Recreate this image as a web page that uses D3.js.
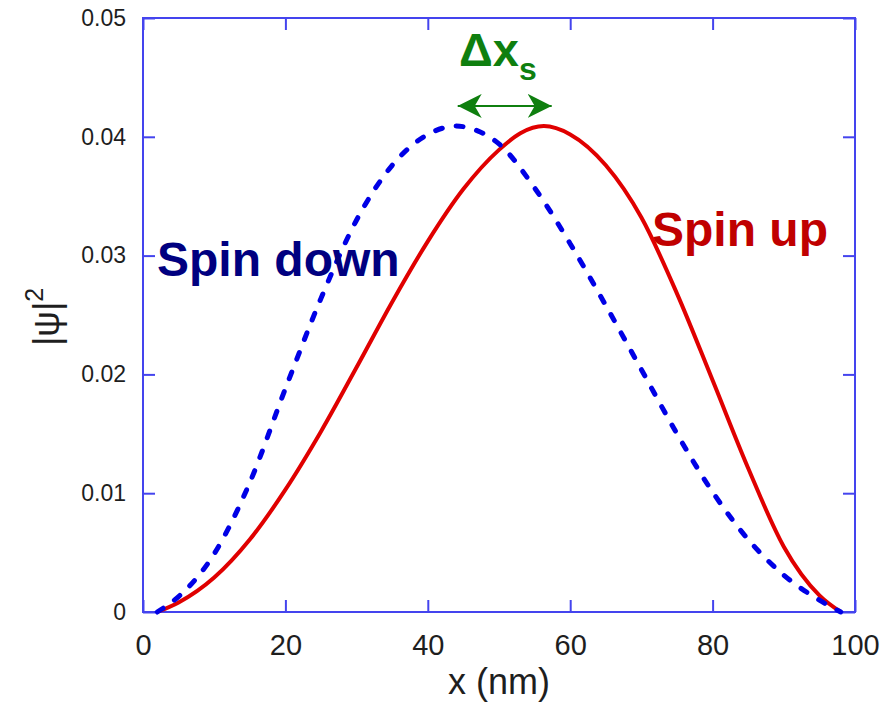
<!DOCTYPE html>
<html>
<head>
<meta charset="utf-8">
<script src="https://cdn.jsdelivr.net/npm/d3@7"></script>
<style>
  body { margin: 0; background: #fff; }
  svg { display: block; }
</style>
</head>
<body>
<script>

/* Data */

var xUp   = [2, 5, 10, 15, 20, 25, 30, 35, 40, 45, 50, 53, 56.3, 60, 65, 70, 75, 80, 85, 90, 95, 98];
var psiUp = [0, 0.0008, 0.0029, 0.0061, 0.0103, 0.0152, 0.0206, 0.0261, 0.0312, 0.0356, 0.0389, 0.0403, 0.0409, 0.0402, 0.0376, 0.0332, 0.0268, 0.0195, 0.0121, 0.0055, 0.0014, 0];

var xDown   = [2, 5, 10, 15, 20, 25, 30, 35, 40, 44, 47, 50, 55, 60, 65, 70, 75, 80, 85, 90, 95, 98];
var psiDown = [0, 0.0013, 0.0049, 0.0109, 0.0188, 0.0264, 0.0330, 0.0376, 0.0402, 0.0409, 0.0405, 0.0394, 0.0357, 0.0310, 0.0258, 0.0204, 0.0150, 0.0101, 0.0061, 0.0031, 0.0010, 0];

var xTicks = [0, 20, 40, 60, 80, 100];
var yTicks = [0, 0.01, 0.02, 0.03, 0.04, 0.05];

var shiftArrow = [44.2, 57.4];   // nm, between the two peaks
var shiftArrowY = 0.0426;


/* Chart */

var width = 885, height = 705;
var margin = {top: 18, right: 30, bottom: 93, left: 143};

var frameColor = "#4444ee";
var font = "Liberation Sans, Arial, sans-serif";

var svg = d3.select("body")
    .append("svg")
    .attr("width", width)
    .attr("height", height);

var x = d3.scaleLinear()
    .domain([0, 100])
    .range([margin.left, width - margin.right]);

var y = d3.scaleLinear()
    .domain([0, 0.05])
    .range([height - margin.bottom, margin.top]);

var tickLen = 12;

/* axes, ticks point inward on all four sides */
var axisB = d3.axisBottom(x).tickValues(xTicks).tickSizeInner(-tickLen).tickSizeOuter(0).tickPadding(22).tickFormat(d3.format("d"));
var axisT = d3.axisTop(x).tickValues(xTicks).tickSizeInner(-tickLen).tickSizeOuter(0).tickFormat("");
var axisL = d3.axisLeft(y).tickValues(yTicks).tickSizeInner(-tickLen).tickSizeOuter(0).tickPadding(17).tickFormat(function(d){ return d === 0 ? "0" : d3.format(".2f")(d); });
var axisR = d3.axisRight(y).tickValues(yTicks).tickSizeInner(-tickLen).tickSizeOuter(0).tickFormat("");

function styleAxis(g) {
    g.select(".domain").remove();
    g.selectAll(".tick line").attr("stroke", frameColor).attr("stroke-width", 2);
    g.selectAll(".tick text")
        .attr("fill", "#1e1e1e")
        .attr("font-family", font);
}

svg.append("g")
    .attr("transform", "translate(0," + y(0) + ")")
    .call(axisB)
    .call(styleAxis)
    .selectAll(".tick text").attr("font-size", 29).attr("dy", "0.71em");

svg.append("g")
    .attr("transform", "translate(0," + y(0.05) + ")")
    .call(axisT)
    .call(styleAxis);

svg.append("g")
    .attr("transform", "translate(" + x(0) + ",0)")
    .call(axisL)
    .call(styleAxis)
    .selectAll(".tick text").attr("font-size", 23);

svg.append("g")
    .attr("transform", "translate(" + x(100) + ",0)")
    .call(axisR)
    .call(styleAxis);

/* frame */
svg.append("rect")
    .attr("x", x(0))
    .attr("y", y(0.05))
    .attr("width", x(100) - x(0))
    .attr("height", y(0) - y(0.05))
    .attr("fill", "none")
    .attr("stroke", frameColor)
    .attr("stroke-width", 2);

/* curves */
var line = d3.line()
    .x(function(d) { return x(d[0]); })
    .y(function(d) { return y(d[1]); })
    .curve(d3.curveMonotoneX);

svg.append("path")
    .datum(d3.zip(xUp, psiUp))
    .attr("d", line)
    .attr("fill", "none")
    .attr("stroke", "#e00000")
    .attr("stroke-width", 4);

svg.append("path")
    .datum(d3.zip(xDown, psiDown))
    .attr("d", line)
    .attr("fill", "none")
    .attr("stroke", "#0000e6")
    .attr("stroke-width", 5)
    .attr("stroke-linecap", "round")
    .attr("stroke-dasharray", "7,14");

/* labels */
svg.append("text")
    .attr("x", 157)
    .attr("y", 276)
    .attr("font-family", font)
    .attr("font-weight", "bold")
    .attr("font-size", 48)
    .attr("fill", "#000080")
    .text("Spin down");

svg.append("text")
    .attr("x", 652)
    .attr("y", 246)
    .attr("font-family", font)
    .attr("font-weight", "bold")
    .attr("font-size", 48)
    .attr("fill", "#c00000")
    .text("Spin up");

/* shift annotation */
var green = "#0f7f0f";

svg.append("defs").selectAll("marker")
    .data(["head"])
    .enter().append("marker")
    .attr("id", "head")
    .attr("viewBox", "0 0 24 24")
    .attr("refX", 24)
    .attr("refY", 12)
    .attr("markerWidth", 24)
    .attr("markerHeight", 24)
    .attr("markerUnits", "userSpaceOnUse")
    .attr("orient", "auto-start-reverse")
    .append("path")
    .attr("d", "M0,0 L24,12 L0,24 L7,12 Z")
    .attr("fill", green);

svg.append("line")
    .attr("x1", x(shiftArrow[0]))
    .attr("x2", x(shiftArrow[1]))
    .attr("y1", y(shiftArrowY))
    .attr("y2", y(shiftArrowY))
    .attr("stroke", green)
    .attr("stroke-width", 2)
    .attr("marker-start", "url(#head)")
    .attr("marker-end", "url(#head)");

var dx = svg.append("text")
    .attr("x", 459)
    .attr("y", 66)
    .attr("font-family", font)
    .attr("font-weight", "bold")
    .attr("font-size", 47)
    .attr("fill", green);
dx.append("tspan").text("\u0394x");
dx.append("tspan").attr("font-size", 32).attr("dy", 14).text("s");

/* axis titles */
svg.append("text")
    .attr("x", (x(0) + x(100)) / 2)
    .attr("y", 694)
    .attr("text-anchor", "middle")
    .attr("font-family", font)
    .attr("font-size", 36)
    .attr("fill", "#1e1e1e")
    .text("x (nm)");

var yt = svg.append("text")
    .attr("transform", "translate(59," + 346 + ") rotate(-90)")
    .attr("font-family", font)
    .attr("font-size", 36)
    .attr("fill", "#1e1e1e");
yt.append("tspan").text("|\u03c8|");
yt.append("tspan").attr("font-size", 25).attr("dy", -16).text("2");

</script>
</body>
</html>
